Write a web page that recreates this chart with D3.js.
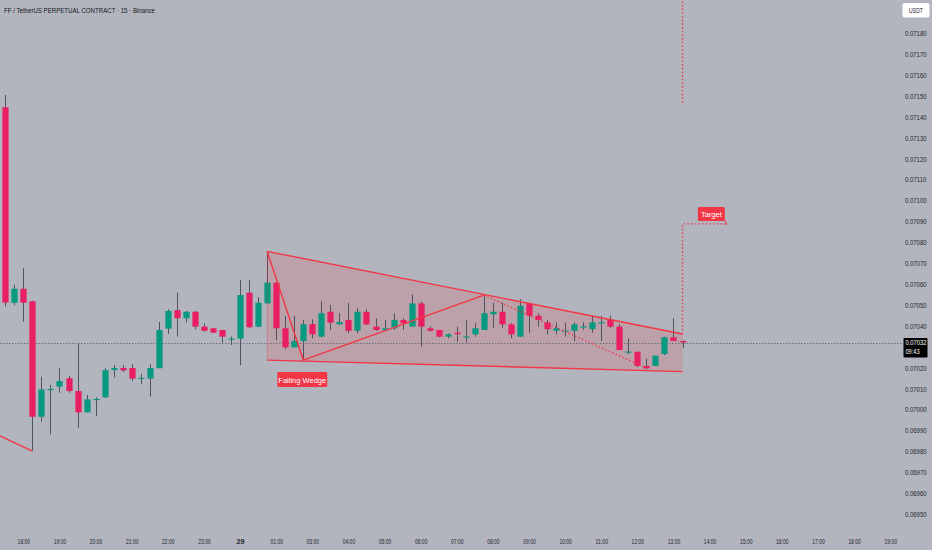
<!DOCTYPE html>
<html><head><meta charset="utf-8">
<script src="https://cdn.jsdelivr.net/npm/d3@7"></script>
<style>html,body{margin:0;padding:0;background:#b2b5be;overflow:hidden}svg{display:block}</style>
</head><body><svg id="c" width="932" height="550"></svg>
<script>
// ---- data ----
const opens  = [0.071445,0.070510,0.070577,0.070517,0.069965,0.070094,0.070109,0.070149,0.070088,0.069986,
                0.070046,0.070058,0.070188,0.070198,0.070198,0.070147,0.070147,0.070197,0.070386,0.070475,
                0.070436,0.070467,0.070396,0.070388,0.070380,0.070337,0.070338,0.070558,0.070396,0.070507,
                0.070606,0.070388,0.070297,0.070327,0.070408,0.070348,0.070467,0.070407,0.070428,0.070376,
                0.070467,0.070396,0.070380,0.070388,0.070428,0.070396,0.070507,0.070388,0.070380,0.070348,
                0.070367,0.070347,0.070359,0.070380,0.070455,0.070467,0.070407,0.070348,0.070507,0.070448,
                0.070416,0.070376,0.070375,0.070376,0.070395,0.070384,0.070415,0.070428,0.070396,0.070275,
                0.070276,0.070208,0.070208,0.070265,0.070345,0.070327];
const highs  = [0.071504,0.070596,0.070675,0.070520,0.070156,0.070117,0.070197,0.070160,0.070316,0.070069,
                0.070058,0.070197,0.070212,0.070212,0.070217,0.070169,0.070217,0.070418,0.070479,0.070558,
                0.070471,0.070471,0.070412,0.070390,0.070380,0.070348,0.070619,0.070619,0.070536,0.070754,
                0.070606,0.070447,0.070447,0.070428,0.070431,0.070518,0.070499,0.070460,0.070510,0.070484,
                0.070479,0.070436,0.070428,0.070460,0.070436,0.070550,0.070515,0.070396,0.070380,0.070364,
                0.070396,0.070428,0.070415,0.070547,0.070510,0.070510,0.070412,0.070527,0.070510,0.070460,
                0.070428,0.070416,0.070416,0.070416,0.070416,0.070448,0.070448,0.070448,0.070407,0.070340,
                0.070276,0.070244,0.070257,0.070348,0.070436,0.070330];
const lows   = [0.070492,0.070498,0.070419,0.069801,0.069941,0.069881,0.070080,0.070080,0.069913,0.069984,
                0.069969,0.070055,0.070152,0.070179,0.070137,0.070120,0.070061,0.070197,0.070361,0.070348,
                0.070415,0.070383,0.070372,0.070365,0.070319,0.070308,0.070212,0.070388,0.070393,0.070507,
                0.070332,0.070287,0.070297,0.070233,0.070340,0.070345,0.070380,0.070404,0.070364,0.070364,
                0.070404,0.070376,0.070376,0.070380,0.070380,0.070396,0.070300,0.070372,0.070345,0.070340,
                0.070324,0.070321,0.070348,0.070380,0.070388,0.070388,0.070340,0.070345,0.070367,0.070396,
                0.070359,0.070359,0.070348,0.070327,0.070380,0.070367,0.070327,0.070388,0.070284,0.070265,
                0.070201,0.070192,0.070208,0.070260,0.070327,0.070292];
const closes = [0.070511,0.070577,0.070510,0.069965,0.070096,0.070098,0.070136,0.070088,0.069986,0.070048,
                0.070050,0.070188,0.070198,0.070187,0.070147,0.070151,0.070198,0.070380,0.070471,0.070436,
                0.070467,0.070396,0.070376,0.070367,0.070348,0.070339,0.070547,0.070393,0.070510,0.070606,
                0.070388,0.070297,0.070327,0.070407,0.070359,0.070460,0.070415,0.070418,0.070376,0.070467,
                0.070407,0.070380,0.070388,0.070428,0.070412,0.070507,0.070396,0.070376,0.070348,0.070359,
                0.070360,0.070349,0.070388,0.070460,0.070467,0.070407,0.070359,0.070496,0.070448,0.070428,
                0.070384,0.070388,0.070377,0.070407,0.070397,0.070416,0.070417,0.070396,0.070284,0.070277,
                0.070208,0.070197,0.070257,0.070345,0.070327,0.070320];

const xTickLabels = ["18:00","19:00","20:00","21:00","22:00","23:00","29","01:00","03:00","04:00","05:00","06:00",
                     "07:00","08:00","09:00","10:00","11:00","12:00","13:00","14:00","15:00","16:00","17:00","18:00","19:00"];
const xTickIndex  = [2,6,10,14,18,22,26,30,34,38,42,46,50,54,58,62,66,70,74,78,82,86,90,94,98];
// 0.07030 is covered by the last-price label in the reference, so it is not listed
const yTickValues = [0.0718,0.0717,0.0716,0.0715,0.0714,0.0713,0.0712,0.0711,0.0710,0.0709,0.0708,0.0707,
                     0.0706,0.0705,0.0704,0.0702,0.0701,0.0700,0.0699,0.0698,0.0697,0.0696,0.0695];

const wedgeUpper   = [[29,0.070756],[75,0.070361]];
const wedgeLower   = [[29,0.070236],[75,0.070181]];
const zigzagSolid  = [[29,0.070756],[33,0.070236],[53,0.070547]];
const zigzagDotted = [[53,0.070547],[71,0.070198]];
const priorLine    = [[-0.6,0.069873],[3,0.069801]];
const targetPath   = [[75,0.070361],[75,0.070887],[79.8,0.070887]];
const projection   = [[75,0.07197],[75,0.071465]];
const wedgeLabelAt = [33,0.070236];
const lastPrice = 0.07032, lastPriceText = "0.07032", countdown = "09:43";
const titleText = "FF / TetherUS PERPETUAL CONTRACT · 15 · Binance";

// ---- drawing ----
const W = 932, H = 550;
const svg = d3.select("#c");
const FONT = "'Liberation Sans Narrow','Liberation Sans',Arial,sans-serif";
const UP = "#089981", DN = "#e91e63", PAT = "#f23645";

const x = d3.scaleLinear().domain([0, 98]).range([5.3, 890.2]);
const y = d3.scaleLinear().domain([0.0695, 0.0718]).range([514, 33]);

svg.append("rect").attr("width", W).attr("height", H).attr("fill", "#b2b5be");

// wedge fill
const pl = d3.line().x(d => x(d[0])).y(d => y(d[1]));
const poly = wedgeUpper.concat(wedgeLower.slice().reverse());
svg.append("path").attr("d", pl(poly) + "Z")
  .attr("fill", "rgba(242,54,69,0.16)").attr("stroke", "none");

// last price line
const lpy = Math.round(y(lastPrice)) + 0.5;
svg.append("line").attr("x1", 0).attr("x2", 902).attr("y1", lpy).attr("y2", lpy)
  .attr("stroke", "#6c6f7a").attr("stroke-width", 1).attr("stroke-dasharray", "1.5,1.5");

// candles
const data = opens.map((o, i) => ({i, o, h: highs[i], l: lows[i], c: closes[i]}));
const g = svg.append("g");
g.selectAll("line.w").data(data).join("line").attr("class", "w")
  .attr("x1", d => Math.round(x(d.i)) + 0.5).attr("x2", d => Math.round(x(d.i)) + 0.5)
  .attr("y1", d => y(d.h)).attr("y2", d => y(d.l))
  .attr("stroke", "#50535e").attr("stroke-width", 1);
const bw = 6.2;
g.selectAll("rect.b").data(data).join("rect").attr("class", "b")
  .attr("x", d => Math.round(x(d.i)) + 0.5 - bw / 2)
  .attr("width", bw)
  .attr("y", d => y(Math.max(d.o, d.c)))
  .attr("height", d => Math.max(1.2, Math.abs(y(d.o) - y(d.c))))
  .attr("fill", d => d.c >= d.o ? UP : DN);

// pattern lines
[wedgeUpper, wedgeLower, zigzagSolid, priorLine].forEach(pts => {
  svg.append("path").attr("d", pl(pts)).attr("fill", "none").attr("stroke", PAT).attr("stroke-width", 1.4);
});
svg.append("line").attr("x1", x(wedgeUpper[0][0])).attr("x2", x(wedgeLower[0][0]))
  .attr("y1", y(wedgeUpper[0][1])).attr("y2", y(wedgeLower[0][1])).attr("stroke", PAT).attr("stroke-width", 0.6).attr("opacity", 0.5);
[zigzagDotted, targetPath, projection].forEach(pts => {
  svg.append("path").attr("d", pl(pts)).attr("fill", "none").attr("stroke", PAT)
    .attr("stroke-width", 1.3).attr("stroke-dasharray", "1.5,2.2");
});

// Target label
const tEnd = targetPath[2];
const tx = x(tEnd[0]), ty = y(tEnd[1]);
svg.append("line").attr("x1", tx - 1).attr("y1", ty - 4).attr("x2", tx + 1).attr("y2", ty + 1)
  .attr("stroke", PAT).attr("stroke-width", 1);
svg.append("rect").attr("x", tx - 28).attr("y", ty - 17).attr("width", 27).attr("height", 14).attr("rx", 1.5).attr("fill", PAT);
svg.append("text").attr("x", tx - 14.5).attr("y", ty - 7.3).attr("text-anchor", "middle")
  .attr("font-family", FONT).attr("font-size", 7.5).attr("fill", "#fff").text("Target");

// Falling Wedge label
const wx = x(wedgeLabelAt[0]), wy = y(wedgeLabelAt[1]);
svg.append("rect").attr("x", wx - 26).attr("y", wy + 12).attr("width", 50).attr("height", 15).attr("rx", 1.5).attr("fill", PAT);
svg.append("text").attr("x", wx - 1).attr("y", wy + 22.5).attr("text-anchor", "middle")
  .attr("font-family", FONT).attr("font-size", 7.5).attr("fill", "#fff").text("Falling Wedge");

// y axis
const yAxis = d3.axisRight(y).tickValues(yTickValues).tickSize(0).tickPadding(0).tickFormat(d => d.toFixed(5));
const ya = svg.append("g").attr("transform", "translate(905,0)").call(yAxis);
ya.select(".domain").remove();
ya.selectAll("text").attr("font-family", FONT).attr("font-size", 7.2).attr("fill", "#1e222d")
  .attr("textLength", 21.5).attr("lengthAdjust", "spacingAndGlyphs").attr("dy", "0.35em");

// x axis
const xAxis = d3.axisBottom(x).tickValues(xTickIndex).tickSize(0).tickPadding(0)
  .tickFormat((d, i) => xTickLabels[i]);
const xa = svg.append("g").attr("transform", "translate(0,538.5)").call(xAxis);
xa.select(".domain").remove();
xa.selectAll("text").attr("font-family", FONT).attr("font-size", 7.2).attr("fill", "#1e222d")
  .attr("font-weight", (d, i) => xTickLabels[i] === "29" ? "bold" : "normal")
  .attr("textLength", (d, i) => xTickLabels[i].length > 2 ? 12.5 : null)
  .attr("lengthAdjust", "spacingAndGlyphs");

// USDT box
svg.append("rect").attr("x", 902.5).attr("y", 3).attr("width", 27).attr("height", 14.5).attr("rx", 2).attr("fill", "#ffffff");
svg.append("text").attr("x", 916).attr("y", 13).attr("text-anchor", "middle").attr("font-family", FONT)
  .attr("font-size", 6.8).attr("fill", "#1e222d").attr("textLength", 14).attr("lengthAdjust", "spacingAndGlyphs").text("USDT");

// last price label
const ly = y(lastPrice);
svg.append("rect").attr("x", 903.5).attr("y", ly - 4.5).attr("width", 24).attr("height", 19.5).attr("rx", 1).attr("fill", "#000000");
svg.append("text").attr("x", 905.5).attr("y", ly + 2.4).attr("font-family", FONT).attr("font-size", 6.8).attr("fill", "#fff")
  .attr("textLength", 21).attr("lengthAdjust", "spacingAndGlyphs").text(lastPriceText);
svg.append("text").attr("x", 905.5).attr("y", ly + 11.8).attr("font-family", FONT).attr("font-size", 6.8).attr("fill", "#fff")
  .attr("textLength", 14).attr("lengthAdjust", "spacingAndGlyphs").text(countdown);

// title
svg.append("text").attr("x", 4).attr("y", 12.5).attr("font-family", FONT).attr("font-size", 8)
  .attr("fill", "#131722").attr("textLength", 151).attr("lengthAdjust", "spacingAndGlyphs").text(titleText);
</script></body></html>
